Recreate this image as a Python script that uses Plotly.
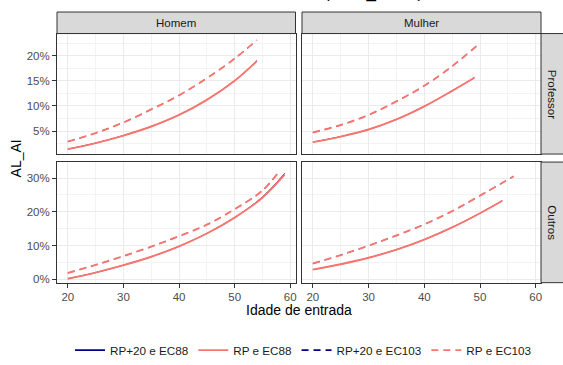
import plotly.graph_objects as go

W, H = 563, 365

# ---------------- data ----------------
series_names = ["RP+20 e EC88", "RP e EC88", "RP+20 e EC103", "RP e EC103"]
sexo = ["Homem", "Mulher"]
grupo = ["Professor", "Outros"]

# Homem / Professor
ages_hp_88 = [20, 25, 30, 35, 40, 45, 50, 54]
hp_rp_ec88 = [1.4, 2.6, 4.1, 5.9, 8.2, 11.2, 15.0, 18.9]
hp_rp20_ec88 = [1.4, 2.6, 4.1, 5.9, 8.2, 11.2, 15.0, 19.0]
ages_hp_103 = [20, 25, 30, 35, 40, 45, 50, 54]
hp_rp_ec103 = [2.9, 4.6, 6.7, 9.3, 12.1, 15.5, 19.4, 23.1]
hp_rp20_ec103 = [2.9, 4.6, 6.7, 9.3, 12.1, 15.5, 19.4, 23.1]

# Mulher / Professor
ages_mp_88 = [20, 25, 30, 35, 40, 45, 49]
mp_rp_ec88 = [2.8, 3.9, 5.3, 7.3, 9.9, 13.0, 15.6]
mp_rp20_ec88 = [2.8, 3.9, 5.3, 7.3, 9.9, 13.0, 15.6]
ages_mp_103 = [20, 25, 30, 35, 40, 45, 50]
mp_rp_ec103 = [4.7, 6.2, 8.2, 10.9, 14.0, 17.9, 22.5]
mp_rp20_ec103 = [4.7, 6.2, 8.2, 10.9, 14.0, 17.9, 22.5]

# Homem / Outros
ages_ho_88 = [20, 25, 30, 35, 40, 45, 50, 55, 59]
ho_rp_ec88 = [0.2, 2.0, 4.2, 6.7, 9.8, 13.6, 18.3, 24.2, 31.0]
ho_rp20_ec88 = [0.2, 2.0, 4.2, 6.7, 9.8, 13.6, 18.3, 24.4, 31.4]
ages_ho_103 = [20, 25, 30, 35, 40, 45, 50, 55, 58]
ho_rp_ec103 = [1.9, 4.3, 6.9, 9.7, 12.8, 16.2, 20.8, 26.3, 32.0]
ho_rp20_ec103 = [1.9, 4.3, 6.9, 9.7, 12.8, 16.2, 20.8, 26.3, 32.0]

# Mulher / Outros
ages_mo_88 = [20, 25, 30, 35, 40, 45, 50, 54]
mo_rp_ec88 = [2.9, 4.5, 6.4, 8.8, 11.8, 15.4, 19.6, 23.3]
mo_rp20_ec88 = [2.9, 4.5, 6.4, 8.8, 11.8, 15.4, 19.6, 23.3]
ages_mo_103 = [20, 25, 30, 35, 40, 45, 50, 56]
mo_rp_ec103 = [4.7, 7.2, 10.0, 13.0, 16.3, 20.2, 24.8, 30.5]
mo_rp20_ec103 = [4.7, 7.2, 10.0, 13.0, 16.3, 20.2, 24.8, 30.5]

x_ticks = [20, 30, 40, 50, 60]
y_ticks_top = [5, 10, 15, 20]
y_ticks_bottom = [0, 10, 20, 30]

# ---------------- styling ----------------
NAVY = "#00008B"
SALMON = "#F8766D"
FONT = "Liberation Sans, Arial, sans-serif"
BORDER = "#333333"
DASH = "7px,5px"

panels = [
    ("x", "y", [(ages_hp_88, hp_rp20_ec88), (ages_hp_88, hp_rp_ec88),
                (ages_hp_103, hp_rp20_ec103), (ages_hp_103, hp_rp_ec103)]),
    ("x2", "y2", [(ages_mp_88, mp_rp20_ec88), (ages_mp_88, mp_rp_ec88),
                  (ages_mp_103, mp_rp20_ec103), (ages_mp_103, mp_rp_ec103)]),
    ("x3", "y3", [(ages_ho_88, ho_rp20_ec88), (ages_ho_88, ho_rp_ec88),
                  (ages_ho_103, ho_rp20_ec103), (ages_ho_103, ho_rp_ec103)]),
    ("x4", "y4", [(ages_mo_88, mo_rp20_ec88), (ages_mo_88, mo_rp_ec88),
                  (ages_mo_103, mo_rp20_ec103), (ages_mo_103, mo_rp_ec103)]),
]
# (colour, dash, width in panels) — navy series sit underneath the salmon ones
styles = [(NAVY, "solid", 1.0), (SALMON, "solid", 1.9),
          (NAVY, DASH, 1.0), (SALMON, DASH, 1.9)]

fig = go.Figure()
# legend entries
for si, name in enumerate(series_names):
    col, dash, _ = styles[si]
    fig.add_trace(go.Scatter(x=[None], y=[None], xaxis="x", yaxis="y", mode="lines",
                             line=dict(color=col, width=1.9, dash=dash),
                             name=name, legendgroup=name, showlegend=True,
                             hoverinfo="skip"))
for pi, (xa, ya, ser) in enumerate(panels):
    for si, (xs, ys) in enumerate(ser):
        col, dash, lw = styles[si]
        fig.add_trace(go.Scatter(
            x=xs, y=ys, xaxis=xa, yaxis=ya, mode="lines",
            line=dict(color=col, width=lw, dash=dash, shape="spline", smoothing=1.0),
            name=series_names[si], legendgroup=series_names[si],
            showlegend=False, hoverinfo="skip"))


def px_x(px):
    return px / W


def px_y(py):
    return 1 - py / H


L1, R1 = 57, 295.5
L2, R2 = 302, 541
T1, B1 = 34.3, 157.5
T2, B2 = 165.7, 289
STRIP_T = 12.3

xdom1 = [px_x(L1), px_x(R1)]
xdom2 = [px_x(L2), px_x(R2)]
ydom_top = [px_y(B1), px_y(T1)]
ydom_bot = [px_y(B2), px_y(T2)]

xrange_ = [18.05, 60.95]
yrange_top = [0.42, 24.39]
yrange_bot = [-0.97, 34.75]

grid = dict(showgrid=True, gridcolor="#EBEBEB", gridwidth=1.1,
            showline=True, mirror=True, linecolor=BORDER, linewidth=1,
            zeroline=False, tickfont=dict(family=FONT, size=11.5, color="#4D4D4D"),
            tickcolor=BORDER, ticklen=4, tickwidth=1)


def xaxis(dom, anchor, labels):
    d = dict(grid, domain=dom, anchor=anchor, range=xrange_, tickmode="array",
             tickvals=x_ticks,
             minor=dict(tickmode="array", tickvals=[25, 35, 45, 55], showgrid=True,
                        gridcolor="#F3F3F3", gridwidth=0.8, ticks=""))
    if labels:
        d.update(showticklabels=True, ticks="outside")
    else:
        d.update(showticklabels=False, ticks="")
    return d


def yaxis(dom, anchor, rng, vals, minors, labels):
    d = dict(grid, domain=dom, anchor=anchor, range=rng, tickmode="array",
             tickvals=vals, ticktext=[f"{v}%" for v in vals],
             minor=dict(tickmode="array", tickvals=minors, showgrid=True,
                        gridcolor="#F3F3F3", gridwidth=0.8, ticks=""))
    if labels:
        d.update(showticklabels=True, ticks="outside")
    else:
        d.update(showticklabels=False, ticks="")
    return d


minor_top = [2.5, 7.5, 12.5, 17.5, 22.5]
minor_bot = [5, 15, 25]

fig.update_layout(
    width=W, height=H,
    margin=dict(l=0, r=0, t=0, b=0),
    paper_bgcolor="white", plot_bgcolor="white",
    font=dict(family=FONT, color="#1A1A1A"),
    xaxis=xaxis(xdom1, "y", False),
    xaxis2=xaxis(xdom2, "y2", False),
    xaxis3=xaxis(xdom1, "y3", True),
    xaxis4=xaxis(xdom2, "y4", True),
    yaxis=yaxis(ydom_top, "x", yrange_top, y_ticks_top, minor_top, True),
    yaxis2=yaxis(ydom_top, "x2", yrange_top, y_ticks_top, minor_top, False),
    yaxis3=yaxis(ydom_bot, "x3", yrange_bot, y_ticks_bottom, minor_bot, True),
    yaxis4=yaxis(ydom_bot, "x4", yrange_bot, y_ticks_bottom, minor_bot, False),
    showlegend=True,
    legend=dict(orientation="h", x=303.5 / W, xanchor="center",
                y=px_y(358), yanchor="middle",
                font=dict(family=FONT, size=11.7, color="#1A1A1A"),
                bgcolor="rgba(0,0,0,0)", traceorder="normal"),
)

shapes = []
annotations = []
strip_fill = "#D9D9D9"
for (l, r), label in zip([(L1, R1), (L2, R2)], sexo):
    shapes.append(dict(type="rect", xref="paper", yref="paper",
                       x0=px_x(l), x1=px_x(r), y0=px_y(T1), y1=px_y(STRIP_T),
                       fillcolor=strip_fill, line=dict(color=BORDER, width=1)))
    annotations.append(dict(xref="paper", yref="paper", x=px_x((l + r) / 2),
                            y=px_y((STRIP_T + T1) / 2), text=label, showarrow=False,
                            xanchor="center", yanchor="middle",
                            font=dict(family=FONT, size=11.5, color="#1A1A1A")))
for (t, b), label in zip([(T1, B1), (T2, B2)], grupo):
    shapes.append(dict(type="rect", xref="paper", yref="paper",
                       x0=px_x(R2), x1=px_x(W + 2), y0=px_y(b), y1=px_y(t),
                       fillcolor=strip_fill, line=dict(color=BORDER, width=1)))
    annotations.append(dict(xref="paper", yref="paper", x=px_x(552),
                            y=px_y((t + b) / 2), text=label, showarrow=False,
                            textangle=90, xanchor="center", yanchor="middle",
                            font=dict(family=FONT, size=11.5, color="#1A1A1A")))

annotations.append(dict(xref="paper", yref="paper", x=px_x((L1 + R2) / 2), y=px_y(317),
                        text="Idade de entrada", showarrow=False, xanchor="center",
                        yanchor="middle", font=dict(family=FONT, size=14, color="#000000")))
annotations.append(dict(xref="paper", yref="paper", x=px_x(16), y=px_y(162),
                        text="AL_AI", showarrow=False, textangle=-90, xanchor="center",
                        yanchor="middle", font=dict(family=FONT, size=14, color="#000000")))
# title: only its lowest part is visible at the top edge of the reference picture
annotations.append(dict(xref="paper", yref="paper", x=px_x(373.5), y=1,
                        text="(valor_anual)", showarrow=False, xanchor="center",
                        yanchor="bottom", yshift=-4,
                        font=dict(family=FONT, size=17, color="#000000")))

fig.update_layout(shapes=shapes, annotations=annotations)

fig.write_html("out.html", config={"displayModeBar": False},
               post_script="document.body.style.margin='0';document.body.style.padding='0';")
